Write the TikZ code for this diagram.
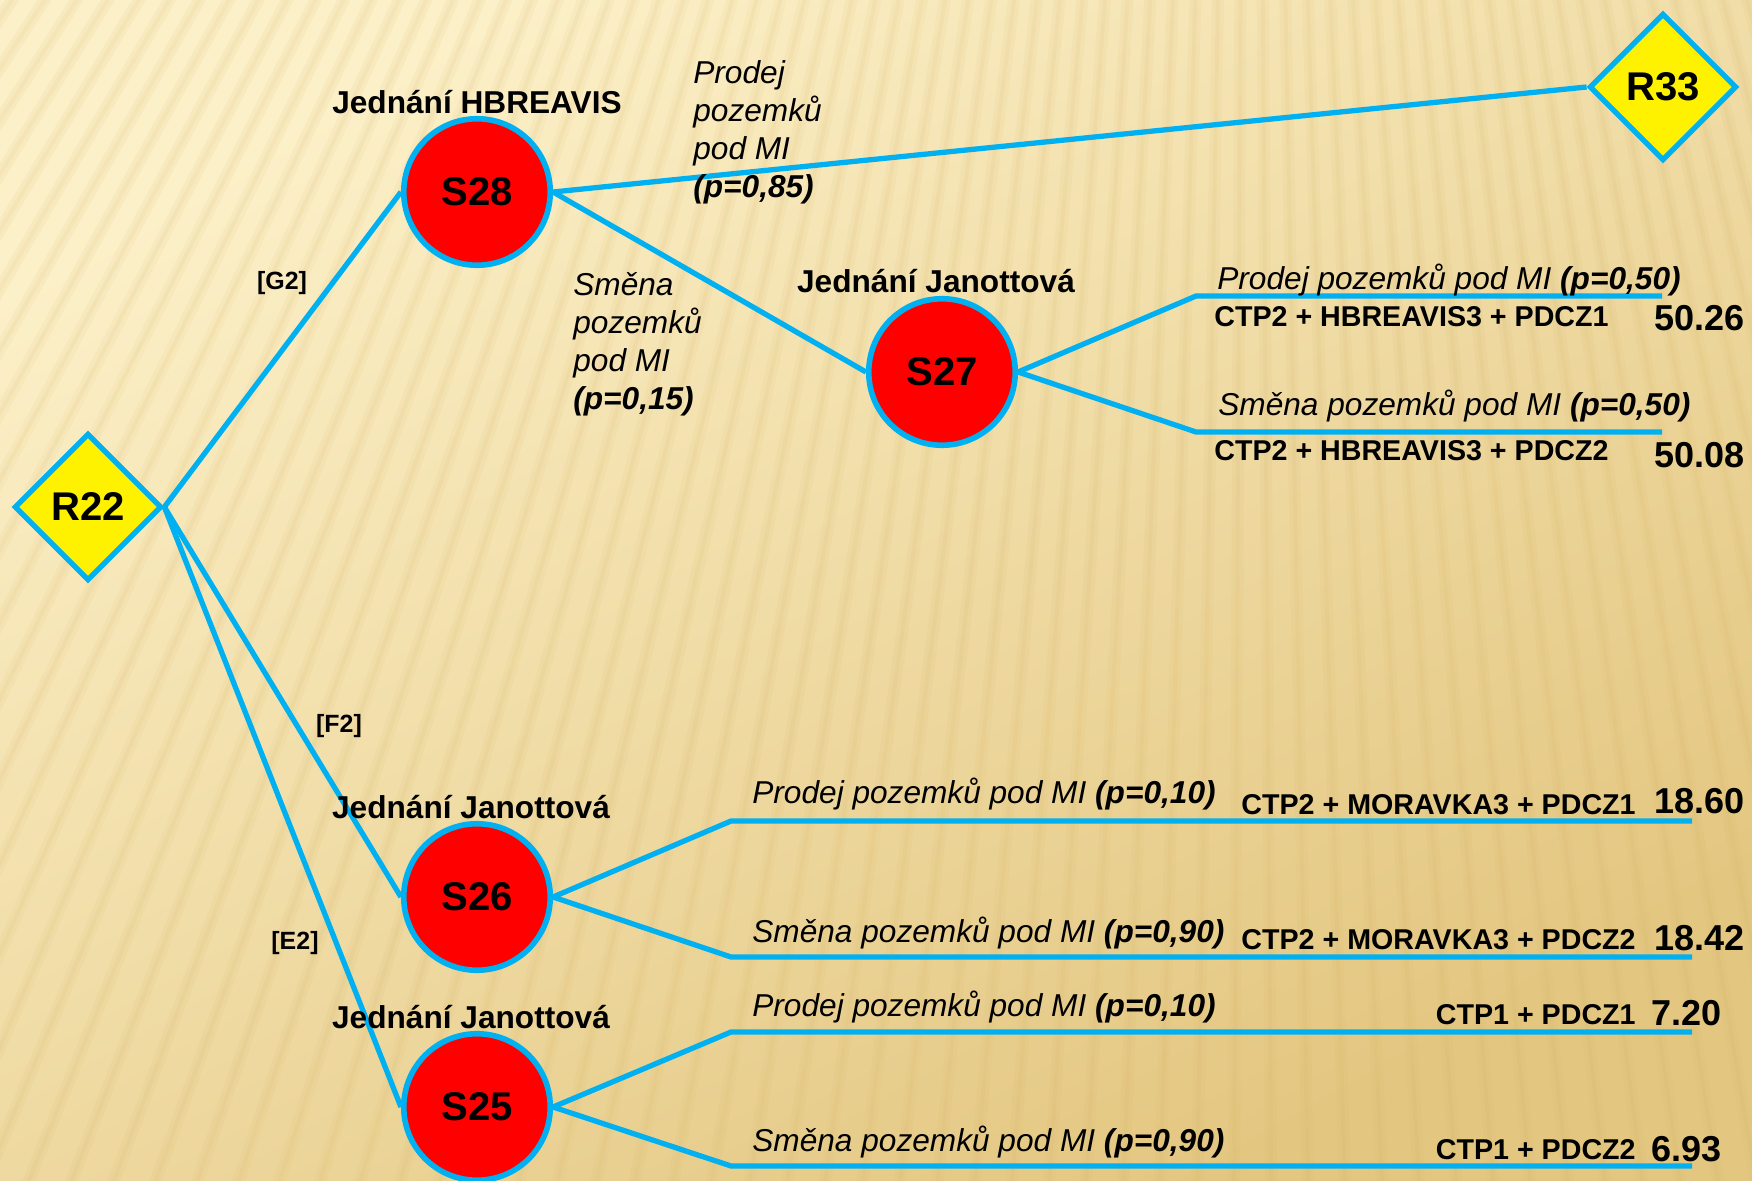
\documentclass[tikz,border=0pt]{standalone}
\usepackage{fontspec}
\setmainfont{Liberation Sans}
\usepackage{tikz}
\usetikzlibrary{shapes.geometric}

\definecolor{branchblue}{HTML}{00B0F0}
\definecolor{sandlight}{HTML}{FCF0C8}
\definecolor{sanddark}{HTML}{E3C680}
\definecolor{sandstripe}{HTML}{D4B060}

\tikzset{
	chance/.style={shape=circle, draw=branchblue, fill=red, line width=3.2pt, minimum size=2.93cm, inner sep=0pt, font=\fontsize{22.8}{26}\selectfont\bfseries},
	decision/.style={shape=diamond, draw=branchblue, fill=yellow, line width=3pt, minimum width=2.95cm, minimum height=2.95cm, inner sep=0pt, font=\fontsize{22.8}{26}\selectfont\bfseries},
	wire/.style={draw=branchblue, line width=3pt},
	title/.style={inner sep=0pt, font=\fontsize{18}{21.6}\selectfont\bfseries},
	prob/.style={inner sep=0pt, font=\fontsize{18}{21.6}\selectfont\itshape},
	combo/.style={inner sep=0pt, font=\fontsize{16.3}{19}\selectfont\bfseries},
	payoff/.style={inner sep=0pt, font=\fontsize{20.5}{24}\selectfont\bfseries},
	tag/.style={inner sep=0pt, font=\fontsize{14.2}{17}\selectfont\bfseries}
}

\begin{document}
\begin{tikzpicture}
		% Background:
		\useasboundingbox (0,0) rectangle (35.04,23.6);
		\clip (0,0) rectangle (35.04,23.6);
		\shade[top color=sandlight, bottom color=sanddark, shading angle=30] (0,0) rectangle (35.04,23.6);
		\foreach \a in {234,234.7,...,288}{
			\draw[sandstripe, line width=0.24cm, opacity=0.08] (25,60.44) -- ++(\a:80);
			\draw[sandstripe, line width=0.08cm, opacity=0.09] (25,60.44) -- ++(\a:80);
		}

		% Decision and chance nodes:
		\node[decision](R22) at (1.76, 13.46){R22};
		\node[decision](R33) at (33.26, 21.86){R33};
		\node[chance](S28) at (9.54, 19.76){S28};
		\node[chance](S27) at (18.84, 16.16){S27};
		\node[chance](S26) at (9.54, 5.66){S26};
		\node[chance](S25) at (9.54, 1.46){S25};

		% Ends of the leaf branches:
		\coordinate (k1) at (23.92, 17.68); \coordinate (e1) at (33.24, 17.68);
		\coordinate (k2) at (23.92, 14.96); \coordinate (e2) at (33.24, 14.96);
		\coordinate (k3) at (14.62, 7.18); \coordinate (e3) at (33.84, 7.18);
		\coordinate (k4) at (14.62, 4.46); \coordinate (e4) at (33.84, 4.46);
		\coordinate (k5) at (14.62, 2.96); \coordinate (e5) at (33.84, 2.96);
		\coordinate (k6) at (14.62, 0.28); \coordinate (e6) at (33.84, 0.28);

		% Branches:
		\draw[wire] (R22.east) -- (S28.west);
		\draw[wire] (R22.east) -- (S26.west);
		\draw[wire] (R22.east) -- (S25.west);
		\draw[wire] (S28.east) -- (R33.west);
		\draw[wire] (S28.east) -- (S27.west);
		\draw[wire] (S27.east) -- (k1) -- (e1);
		\draw[wire] (S27.east) -- (k2) -- (e2);
		\draw[wire] (S26.east) -- (k3) -- (e3);
		\draw[wire] (S26.east) -- (k4) -- (e4);
		\draw[wire] (S25.east) -- (k5) -- (e5);
		\draw[wire] (S25.east) -- (k6) -- (e6);

		% Labels:
		\node[title, anchor=base](T28) at (9.54, 21.32){Jednání HBREAVIS};
		\node[title, anchor=base](T27) at (18.72, 17.74){Jednání Janottová};
		\node[title, anchor=base](T26) at (9.42, 7.24){Jednání Janottová};
		\node[title, anchor=base](T25) at (9.42, 3.04){Jednání Janottová};
		\node[tag, anchor=base](G2) at (5.64, 17.8){[G2]};
		\node[tag, anchor=base](F2) at (6.78, 8.94){[F2]};
		\node[tag, anchor=base](E2) at (5.9, 4.62){[E2]};

		\node[prob, anchor=west, align=left](P85) at (13.86, 20.95){Prodej\\pozemků\\pod MI\\\textbf{(p=0,85)}};
		\node[prob, anchor=west, align=left](P15) at (11.46, 16.72){Směna\\pozemků\\pod MI\\\textbf{(p=0,15)}};

		\node[prob, anchor=base west](P1) at (24.34, 17.8){Prodej pozemků pod MI \textbf{(p=0,50)}};
		\node[combo, anchor=base west](C1) at (24.28, 17.07){CTP2 + HBREAVIS3 + PDCZ1};
		\node[payoff, anchor=base east](V1) at (34.9, 16.98){50.26};
		\node[prob, anchor=base west](P2) at (24.36, 15.28){Směna pozemků pod MI \textbf{(p=0,50)}};
		\node[combo, anchor=base west](C2) at (24.28, 14.39){CTP2 + HBREAVIS3 + PDCZ2};
		\node[payoff, anchor=base east](V2) at (34.9, 14.24){50.08};

		\node[prob, anchor=base west](P3) at (15.04, 7.54){Prodej pozemků pod MI \textbf{(p=0,10)}};
		\node[combo, anchor=base east](C3) at (32.72, 7.32){CTP2 + MORAVKA3 + PDCZ1};
		\node[payoff, anchor=base east](V3) at (34.9, 7.34){18.60};
		\node[prob, anchor=base west](P4) at (15.04, 4.76){Směna pozemků pod MI \textbf{(p=0,90)}};
		\node[combo, anchor=base east](C4) at (32.72, 4.62){CTP2 + MORAVKA3 + PDCZ2};
		\node[payoff, anchor=base east](V4) at (34.9, 4.6){18.42};

		\node[prob, anchor=base west](P5) at (15.04, 3.28){Prodej pozemků pod MI \textbf{(p=0,10)}};
		\node[combo, anchor=base east](C5) at (32.72, 3.12){CTP1 + PDCZ1};
		\node[payoff, anchor=base east](V5) at (34.44, 3.09){7.20};
		\node[prob, anchor=base west](P6) at (15.04, 0.58){Směna pozemků pod MI \textbf{(p=0,90)}};
		\node[combo, anchor=base east](C6) at (32.72, 0.42){CTP1 + PDCZ2};
		\node[payoff, anchor=base east](V6) at (34.44, 0.38){6.93};
	\end{tikzpicture}
\end{document}
